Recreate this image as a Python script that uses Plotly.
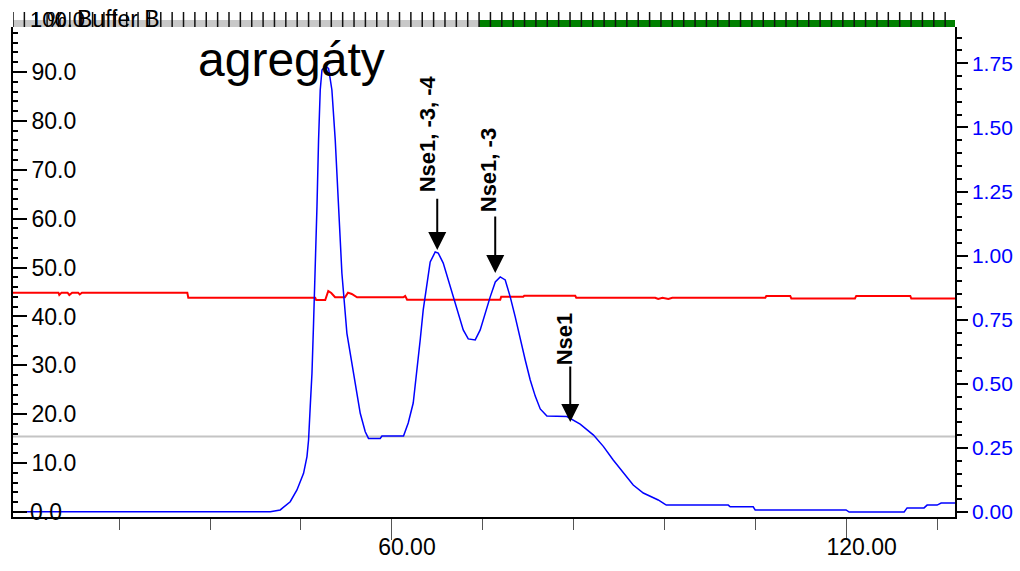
import plotly.graph_objects as go

# ---- data (ml, absorbance / conductivity) ----
uv_x = [10.0, 43.95, 45.26, 46.58, 47.47, 48.34, 48.79, 49.00, 49.22, 49.45, 49.66, 49.88,
        50.11, 50.32, 50.54, 50.77, 51.20, 51.64, 52.08, 52.52, 52.96, 53.40, 54.06, 54.93,
        55.82, 56.48, 56.91, 58.46, 58.68, 61.53, 62.15, 62.81, 63.34, 63.73, 64.13, 64.66,
        65.05, 65.71, 66.11, 66.77, 67.43, 68.09, 68.75, 69.41, 70.07, 70.99, 71.65, 72.31,
        72.97, 73.64, 74.29, 74.95, 75.61, 76.27, 76.93, 77.59, 78.25, 78.91, 79.57, 80.45,
        83.09, 84.84, 86.60, 87.92, 89.20, 90.52, 91.84, 93.17, 94.35, 95.14, 95.80, 96.20,
        104.38, 104.63, 107.67, 107.93, 119.93, 120.33, 127.59, 127.98, 130.22, 130.62,
        131.94, 132.47, 134.3]
uv_y = [0.001, 0.001, 0.008, 0.040, 0.086, 0.151, 0.216, 0.281, 0.411, 0.541, 0.736, 0.931,
        1.191, 1.451, 1.646, 1.724, 1.739, 1.730, 1.646, 1.451, 1.191, 0.931, 0.697, 0.541,
        0.385, 0.313, 0.287, 0.287, 0.296, 0.296, 0.347, 0.425, 0.554, 0.671, 0.788, 0.905,
        0.975, 1.014, 1.010, 0.971, 0.905, 0.839, 0.776, 0.710, 0.675, 0.671, 0.710, 0.776,
        0.839, 0.897, 0.917, 0.905, 0.839, 0.761, 0.671, 0.593, 0.515, 0.452, 0.402, 0.374,
        0.372, 0.343, 0.300, 0.255, 0.203, 0.152, 0.105, 0.074, 0.059, 0.047, 0.035, 0.027,
        0.027, 0.020, 0.020, 0.008, 0.008, 0.0, 0.0, 0.016, 0.016, 0.027,
        0.027, 0.035, 0.035]

cond_x = [10.0, 16.0, 16.11, 16.4, 17.2, 17.43, 17.8, 18.6, 18.8, 19.1, 33.0, 33.13, 49.88,
          50.01, 51.2, 51.6, 52.0, 52.5, 53.8, 54.2, 54.7, 55.4, 61.5, 61.75, 62.0, 74.29,
          74.42, 77.33, 77.46, 84.19, 84.32, 94.74, 95.14, 95.7, 96.48, 97.0, 109.27, 109.4,
          112.56, 112.7, 121.1, 121.27, 128.4, 128.53, 134.3]
cond_y = [44.86, 44.86, 44.39, 44.86, 44.86, 44.39, 44.86, 44.86, 44.5, 44.86, 44.86, 43.83, 43.83,
          43.36, 43.36, 45.2, 44.79, 43.92, 43.92, 44.86, 44.59, 43.92, 43.92, 44.2, 43.42, 43.42,
          44.04, 44.04, 44.24, 44.24, 43.83, 43.83, 43.56, 43.83, 43.56, 43.83, 43.83, 44.2,
          44.2, 43.67, 43.67, 44.2, 44.2, 43.67, 43.67]

baseline_level = 15.44          # grey horizontal reference line (left axis)
collect_start = 71.5            # start of green (collected) fraction bar
fraction_marks = [10.0, 11.5, 13.0, 14.5, 16.0, 17.5, 19.0, 20.5, 22.0, 23.5, 25.0, 26.5,
                  28.0, 29.5, 31.0, 32.5, 34.0, 35.5, 37.0, 38.5, 40.0, 41.5, 43.0, 44.5,
                  46.0, 47.5, 49.0, 50.5, 52.0, 53.5, 55.0, 56.5, 58.0, 59.5, 61.0, 62.5,
                  64.0, 65.5, 67.0, 68.5, 70.0, 71.5, 73.0, 74.5, 76.0, 77.5, 79.0, 80.5,
                  82.0, 83.5, 85.0, 86.5, 88.0, 89.5, 91.0, 92.5, 94.0, 95.5, 97.0, 98.5,
                  100.0, 101.5, 103.0, 104.5, 106.0, 107.5, 109.0, 110.5, 112.0, 113.5,
                  115.0, 116.5, 118.0, 119.5, 121.0, 122.5, 124.0, 125.5, 127.0, 128.5,
                  130.0, 131.5, 133.0]

# peak labels: text, text x, text y (left axis), arrow x, arrow tail y, arrow tip y
peak_labels = ["Nse1, -3, -4", "Nse1, -3", "Nse1"]
peak_text_x = [64.66, 72.71, 82.88]
peak_text_y = [77.3, 69.95, 35.39]
peak_arrow_x = [65.98, 73.63, 83.53]
peak_arrow_tail = [64.4, 60.75, 30.07]
peak_arrow_tip = [53.6, 48.89, 18.41]

x_range = [10.0, 134.3]
left_range = [-1.02, 99.2]
right_range = [-0.0195, 1.8916]

FONT = "Liberation Sans, Arial, sans-serif"

fig = go.Figure()
fig.add_trace(go.Scatter(x=cond_x, y=cond_y, mode="lines", yaxis="y",
                         line=dict(color="#ff0000", width=2), showlegend=False))
fig.add_trace(go.Scatter(x=uv_x, y=uv_y, mode="lines", yaxis="y2",
                         line=dict(color="#0000ff", width=1.5), showlegend=False))

shapes = []
shapes.append(dict(type="line", xref="paper", yref="y", x0=0, x1=1,
                   y0=baseline_level, y1=baseline_level,
                   line=dict(color="#c4c4c4", width=2), layer="below"))
# fraction bar on top
bar_y0, bar_y1 = 1.0, 1.0143
shapes.append(dict(type="rect", xref="x", yref="paper", x0=x_range[0], x1=collect_start,
                   y0=bar_y0, y1=bar_y1, fillcolor="#c8c8c8", line=dict(width=0), layer="above"))
shapes.append(dict(type="rect", xref="x", yref="paper", x0=collect_start, x1=x_range[1],
                   y0=bar_y0, y1=bar_y1, fillcolor="#008000", line=dict(width=0), layer="above"))
for fm in fraction_marks:
    shapes.append(dict(type="line", xref="x", yref="paper", x0=fm, x1=fm,
                       y0=1.0, y1=1.0306, line=dict(color="#111111", width=1.5), layer="above"))

annotations = []
annotations.append(dict(text="agregáty", xref="paper", yref="paper", x=0.1943, y=0.9327,
                        xanchor="left", yanchor="middle", showarrow=False,
                        font=dict(family=FONT, size=48, color="black")))
annotations.append(dict(text="100.0", xref="paper", yref="paper", x=0.0159, y=1.0163,
                        xanchor="left", yanchor="middle", showarrow=False,
                        font=dict(family=FONT, size=22, color="black")))
annotations.append(dict(text="%", xref="paper", yref="paper", x=0.0467, y=1.0163,
                        xanchor="center", yanchor="middle", showarrow=False,
                        font=dict(family=FONT, size=22, color="black")))
annotations.append(dict(text="Buffer B", xref="paper", yref="paper", x=0.0658, y=1.0163,
                        xanchor="left", yanchor="middle", showarrow=False,
                        font=dict(family=FONT, size=23, color="black")))
annotations.append(dict(text="0.0", xref="paper", yref="y", x=0.0159, y=0,
                        xanchor="left", yanchor="middle", showarrow=False,
                        font=dict(family=FONT, size=23, color="black")))
for t, tx, ty, axx, tail, tip in zip(peak_labels, peak_text_x, peak_text_y,
                                     peak_arrow_x, peak_arrow_tail, peak_arrow_tip):
    annotations.append(dict(text="<b>" + t + "</b>", x=tx, y=ty, xref="x", yref="y",
                            textangle=-90, showarrow=False, xanchor="center", yanchor="middle",
                            font=dict(family=FONT, size=22, color="black")))
    annotations.append(dict(text="", x=axx, y=tip, xref="x", yref="y",
                            ax=axx, ay=tail, axref="x", ayref="y", showarrow=True,
                            arrowhead=2, arrowsize=1.8, arrowwidth=2, arrowcolor="black",
                            standoff=0))

fig.update_layout(
    width=1020, height=571,
    margin=dict(l=13, r=65, t=27, b=54, autoexpand=False),
    paper_bgcolor="white", plot_bgcolor="white",
    showlegend=False,
    shapes=shapes, annotations=annotations,
    xaxis=dict(range=x_range, showgrid=False, zeroline=False, automargin=False,
               showline=True, linecolor="black", linewidth=2,
               ticks="outside", ticklen=21, tickwidth=1, tickcolor="#555555",
               tickvals=[60, 120], ticktext=["60.00", "120.00"],
               ticklabelshift=15, ticklabelstandoff=-13,
               tickfont=dict(family=FONT, size=23, color="black"),
               minor=dict(tick0=0, dtick=12, ticks="outside", ticklen=11,
                          tickwidth=1, tickcolor="#555555")),
    yaxis=dict(range=left_range, showgrid=False, zeroline=False, automargin=False,
               showline=True, linecolor="black", linewidth=1.5,
               ticks="inside", ticklen=14, tickwidth=1.5, tickcolor="black",
               tick0=0, dtick=10, tickformat=".1f", tickprefix="\u00a0",
               ticklabelposition="inside",
               tickfont=dict(family=FONT, size=23, color="black"),
               minor=dict(tick0=0, dtick=2, ticks="inside", ticklen=5,
                          tickwidth=1.5, tickcolor="black")),
    yaxis2=dict(range=right_range, overlaying="y", side="right", automargin=False,
                showgrid=False, zeroline=False,
                showline=True, linecolor="black", linewidth=1.5,
                ticks="outside", ticklen=11, tickwidth=1.5, tickcolor="black",
                tick0=0, dtick=0.25, tickformat=".2f",
                tickfont=dict(family=FONT, size=21, color="#0000ff"),
                minor=dict(tick0=0, dtick=0.05, ticks="outside", ticklen=5,
                           tickwidth=1.5, tickcolor="black")),
)

fig.write_html("out.html")
